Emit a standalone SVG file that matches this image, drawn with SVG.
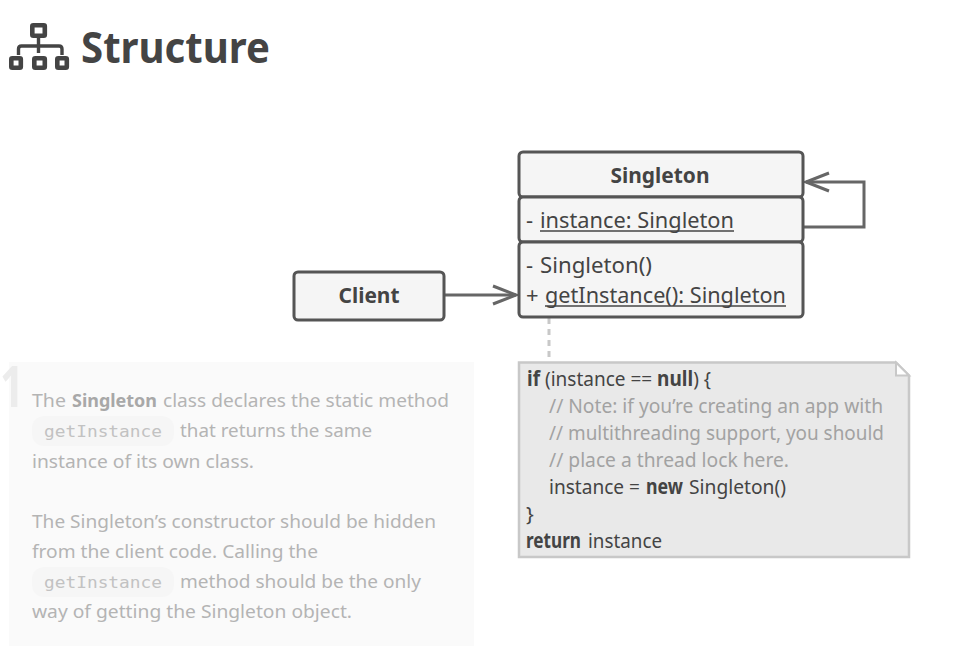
<svg xmlns="http://www.w3.org/2000/svg" width="966" height="664" viewBox="0 0 966 664">
<style>
text{font-family:"Noto Sans","Open Sans",sans-serif;fill:#444}
.b{font-weight:700}
.uml{font-size:22px}
.box{fill:#f5f5f5;stroke:#555;stroke-width:3}
.note{font-size:20.5px}
.faint{fill:#a2a2a2}
.p{font-size:18px;fill:#b4b4b4}
.pb{font-weight:700;fill:#a8a8a8}
.code{font-family:"DejaVu Sans Mono","Liberation Mono",monospace;font-size:16.5px;fill:#c2c2c2}
.pill{fill:#f6f6f6}
.conn{fill:none;stroke:#666;stroke-width:3}
.u{stroke:#444;stroke-width:1.4}
</style>
<g id="heading">
<g fill="none" stroke="#444">
<g stroke-width="4.6">
<rect x="32.300" y="25.300" width="12.500" height="10.500" rx="1"/>
<rect x="11.300" y="58.300" width="9.500" height="9.500" rx="1"/>
<rect x="34.300" y="58.300" width="10.500" height="9.500" rx="1"/>
<rect x="57.300" y="58.300" width="9.500" height="9.500" rx="1"/>
</g>
<path stroke-width="3.400" d="M38.500 37V53M18.500 55V49Q18.500 46 21.500 46H59Q62 46 62 49V55"/>
</g>
<text class="b" x="81" y="63" font-size="43" textLength="189" lengthAdjust="spacingAndGlyphs">Structure</text>
</g>
<g id="description">
<rect x="9" y="362" width="465" height="284" fill="#fafafa"/>
<text x="0" y="407" font-size="58" class="b" style="fill:#ececec" textLength="24" lengthAdjust="spacingAndGlyphs">1</text>
<text class="p" x="32" y="407" textLength="34" lengthAdjust="spacingAndGlyphs">The</text>
<text class="p pb" x="72" y="407" textLength="85" lengthAdjust="spacingAndGlyphs">Singleton</text>
<text class="p" x="163" y="407" textLength="286" lengthAdjust="spacingAndGlyphs">class declares the static method</text>
<rect class="pill" x="32" y="416" width="142" height="30" rx="12"/>
<text class="code" x="44" y="437" textLength="118" lengthAdjust="spacingAndGlyphs">getInstance</text>
<text class="p" x="180" y="437" textLength="192" lengthAdjust="spacingAndGlyphs">that returns the same</text>
<text class="p" x="32" y="468" textLength="222" lengthAdjust="spacingAndGlyphs">instance of its own class.</text>
<text class="p" x="32" y="528" textLength="404" lengthAdjust="spacingAndGlyphs">The Singleton’s constructor should be hidden</text>
<text class="p" x="32" y="558" textLength="286" lengthAdjust="spacingAndGlyphs">from the client code. Calling the</text>
<rect class="pill" x="32" y="567" width="142" height="30" rx="12"/>
<text class="code" x="44" y="588" textLength="118" lengthAdjust="spacingAndGlyphs">getInstance</text>
<text class="p" x="180" y="588" textLength="241" lengthAdjust="spacingAndGlyphs">method should be the only</text>
<text class="p" x="32" y="618" textLength="320" lengthAdjust="spacingAndGlyphs">way of getting the Singleton object.</text>
</g>
<g id="connectors">
<path class="conn" d="M803 227H864V182H806"/>
<path class="conn" d="M829 173L806 182L829 191"/>
<path class="conn" d="M444 295H516"/>
<path class="conn" d="M493 286L516 295L493 304"/>
<path d="M549 318V362" fill="none" stroke="#c8c8c8" stroke-width="3" stroke-dasharray="6 5"/>
</g>
<g id="client">
<rect class="box" x="294" y="272" width="150" height="48" rx="4"/>
<text class="uml b" x="369" y="303" text-anchor="middle" textLength="61" lengthAdjust="spacingAndGlyphs">Client</text>
</g>
<g id="singleton">
<rect class="box" x="519" y="152" width="284" height="45" rx="4"/>
<rect class="box" x="519" y="197" width="284" height="45" rx="4"/>
<rect class="box" x="519" y="242" width="284" height="75" rx="4"/>
<text class="uml b" x="660" y="183" text-anchor="middle" textLength="99" lengthAdjust="spacingAndGlyphs">Singleton</text>
<text class="uml" x="526" y="228">-</text>
<text class="uml" x="540" y="228" textLength="194" lengthAdjust="spacingAndGlyphs">instance: Singleton</text>
<path class="u" d="M540 231H734"/>
<text class="uml" x="526" y="273">-</text>
<text class="uml" x="540" y="273" textLength="112" lengthAdjust="spacingAndGlyphs">Singleton()</text>
<text class="uml" x="526" y="303">+</text>
<text class="uml" x="545" y="303" textLength="241" lengthAdjust="spacingAndGlyphs">getInstance(): Singleton</text>
<path class="u" d="M545 306H786"/>
</g>
<g id="note">
<path d="M519 362.600H896L909 375.600V557H519Z" fill="#e9e9e9" stroke="#c8c8c8" stroke-width="2.500"/>
<path d="M896 362.600V375.600H909Z" fill="#fff" stroke="#c8c8c8" stroke-width="2"/>
<text class="note b" x="527" y="386" textLength="13" lengthAdjust="spacingAndGlyphs">if</text>
<text class="note" x="545" y="386" textLength="166" lengthAdjust="spacingAndGlyphs">(instance == <tspan class="b">null</tspan>) {</text>
<text class="note faint" x="549" y="413" textLength="334" lengthAdjust="spacingAndGlyphs">// Note: if you’re creating an app with</text>
<text class="note faint" x="549" y="440" textLength="335" lengthAdjust="spacingAndGlyphs">// multithreading support, you should</text>
<text class="note faint" x="549" y="467" textLength="240" lengthAdjust="spacingAndGlyphs">// place a thread lock here.</text>
<text class="note" x="549" y="494" textLength="91" lengthAdjust="spacingAndGlyphs">instance =</text>
<text class="note b" x="646" y="494" textLength="37" lengthAdjust="spacingAndGlyphs">new</text>
<text class="note" x="689" y="494" textLength="97" lengthAdjust="spacingAndGlyphs">Singleton()</text>
<text class="note" x="526" y="521">}</text>
<text class="note b" x="526" y="548" textLength="55" lengthAdjust="spacingAndGlyphs">return</text>
<text class="note" x="588" y="548" textLength="74" lengthAdjust="spacingAndGlyphs">instance</text>
</g>
</svg>
